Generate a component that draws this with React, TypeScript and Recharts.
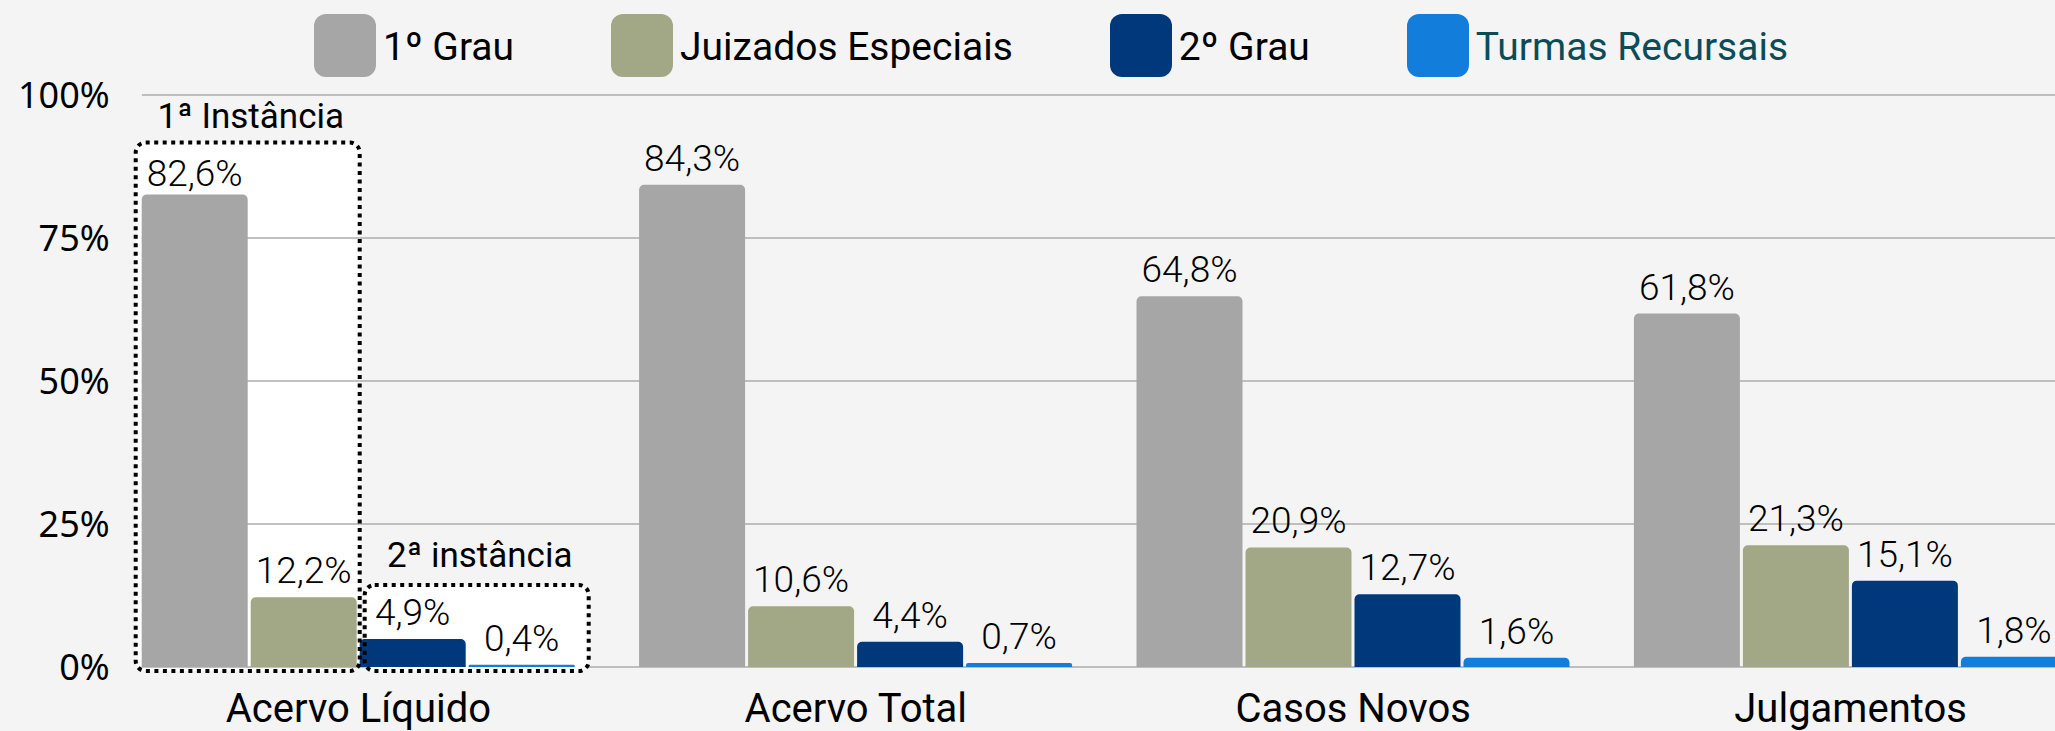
import React from "react";
import { Bar, BarChart, CartesianGrid, LabelList, Rectangle, XAxis, YAxis } from "recharts";

const categories = ["Acervo Líquido", "Acervo Total", "Casos Novos", "Julgamentos"];
const primeiroGrau = [82.6, 84.3, 64.8, 61.8];
const juizadosEspeciais = [12.2, 10.6, 20.9, 21.3];
const segundoGrau = [4.9, 4.4, 12.7, 15.1];
const turmasRecursais = [0.4, 0.7, 1.6, 1.8];
const yTicks = [0, 25, 50, 75, 100];
const boxTitles = ["1ª Instância", "2ª instância"];

const series = [
  { key: "primeiroGrau", name: "1º Grau", color: "#a6a6a6", text: "#000000" },
  { key: "juizados", name: "Juizados Especiais", color: "#a2a785", text: "#000000" },
  { key: "segundoGrau", name: "2º Grau", color: "#00387c", text: "#000000" },
  { key: "turmas", name: "Turmas Recursais", color: "#137ddb", text: "#0b4c57" },
];

const data = categories.map((cat, i) => ({
  cat,
  primeiroGrau: primeiroGrau[i],
  juizados: juizadosEspeciais[i],
  segundoGrau: segundoGrau[i],
  turmas: turmasRecursais[i],
}));

// layout
const WIDTH = 2120;
const HEIGHT = 731;
const AXIS_W = 109.7;
const XAXIS_H = 64;
const MARGIN = { top: 95, right: 20.7, bottom: 0, left: 0 };
const BAR = 106;
const GAP = 3;
const RADIUS: [number, number, number, number] = [5, 5, 0, 0];
const PLOT_W = WIDTH - AXIS_W - MARGIN.right - MARGIN.left;
const PLOT_H = HEIGHT - MARGIN.top - XAXIS_H - MARGIN.bottom;
const BAND = PLOT_W / categories.length;
const INSET = (BAND - (4 * BAR + 3 * GAP)) / 2;
const GRID = "#adadad";

const fmt = (v: number) => v.toFixed(1).replace(".", ",") + "%";

// both annotation boxes, from the first group's gray bar left edge and the baseline
function boxes(x0: number, w: number, base: number) {
  const k = PLOT_H / 100;
  const grayTop = base - primeiroGrau[0] * k;
  const blueTop = base - segundoGrau[0] * k;
  const split = x0 + 2 * w + 2 * GAP;
  return [
    { left: x0 - 6, right: split, top: grayTop - 52, bottom: base + 4, titleDy: 15 },
    { left: split + 5, right: x0 + 4 * w + 3 * GAP + 14, top: blueTop - 54, bottom: base + 4, titleDy: 18 },
  ];
}

const GrayShape = (props: any) => {
  const { x, y, width, height, index } = props;
  const bar = <Rectangle x={x} y={y} width={width} height={height} radius={RADIUS} fill={series[0].color} />;
  if (index !== 0) return bar;
  const base = y + height;
  const k = PLOT_H / 100;
  const bx = boxes(x, width, base);
  const b1 = bx[0];
  return (
    <g>
      {bx.map((b, i) => (
        <rect key={i} x={b.left} y={b.top} width={b.right - b.left} height={b.bottom - b.top} rx={10} fill="#ffffff" />
      ))}
      {yTicks
        .filter((t) => base - t * k > b1.top)
        .map((t) => (
          <line key={t} x1={x} x2={b1.right} y1={base - t * k} y2={base - t * k} stroke={GRID} strokeWidth={1.5} />
        ))}
      {bar}
    </g>
  );
};

const LightShape = (props: any) => {
  const { x, y, width, height, index } = props;
  const bar = <Rectangle x={x} y={y} width={width} height={height} radius={RADIUS} fill={series[3].color} />;
  if (index !== 0) return bar;
  const base = y + height;
  const x0 = x - 3 * (width + GAP);
  const bx = boxes(x0, width, base);
  return (
    <g>
      {bar}
      {bx.map((b, i) => (
        <g key={i}>
          <rect
            x={b.left}
            y={b.top}
            width={b.right - b.left}
            height={b.bottom - b.top}
            rx={10}
            fill="none"
            stroke="#000"
            strokeWidth={4}
            strokeDasharray="4 4.5"
          />
          <text
            x={(b.left + b.right) / 2 + 3}
            y={b.top - b.titleDy}
            textAnchor="middle"
            fontFamily="Roboto"
            fontSize={35}
            fill="#000"
          >
            {boxTitles[i]}
          </text>
        </g>
      ))}
    </g>
  );
};

const renderLabel = (seriesKey: string) => (p: any) => {
  const vb = p.viewBox || {};
  const x = p.x ?? vb.x;
  const y = p.y ?? vb.y;
  const width = p.width ?? vb.width;
  const off = seriesKey === "primeiroGrau" && p.index === 0 ? 9 : 14;
  return (
    <text
      x={x + width / 2}
      y={y - off}
      textAnchor="middle"
      fontFamily="Roboto"
      fontWeight={300}
      fontSize={37}
      fill="#000"
    >
      {fmt(Number(p.value))}
    </text>
  );
};

const gridLine = (p: any) => (
  <line
    key={p.key ?? `h-${p.index}`}
    x1={p.x1 + INSET}
    x2={p.x2}
    y1={p.y1}
    y2={p.y2}
    stroke={GRID}
    strokeWidth={1.5}
  />
);

export default function App() {
  return (
    <div
      style={{
        position: "fixed",
        left: 0,
        top: 0,
        width: 2055,
        height: 731,
        overflow: "hidden",
        background: "#f4f4f4",
      }}
    >
      <BarChart width={WIDTH} height={HEIGHT} data={data} margin={MARGIN} barSize={BAR} barGap={GAP}>
        <CartesianGrid vertical={false} horizontal={gridLine} />
        <XAxis
          dataKey="cat"
          height={XAXIS_H}
          axisLine={false}
          tickLine={false}
          tickSize={0}
          tickMargin={27}
          interval={0}
          tick={{ fontFamily: "Roboto", fontSize: 40, fill: "#000" }}
        />
        <YAxis
          width={AXIS_W}
          domain={[0, 100]}
          ticks={yTicks}
          axisLine={false}
          tickLine={false}
          tickSize={0}
          tickMargin={0}
          tickFormatter={(v: number) => `${v}%`}
          tick={{ fontFamily: "Noto Sans", fontSize: 36, fill: "#000" }}
        />
        <Bar dataKey="primeiroGrau" name={series[0].name} fill={series[0].color} shape={GrayShape} isAnimationActive={false}>
          <LabelList dataKey="primeiroGrau" content={renderLabel("primeiroGrau")} />
        </Bar>
        <Bar dataKey="juizados" name={series[1].name} fill={series[1].color} radius={RADIUS} isAnimationActive={false}>
          <LabelList dataKey="juizados" content={renderLabel("juizados")} />
        </Bar>
        <Bar dataKey="segundoGrau" name={series[2].name} fill={series[2].color} radius={RADIUS} isAnimationActive={false}>
          <LabelList dataKey="segundoGrau" content={renderLabel("segundoGrau")} />
        </Bar>
        <Bar dataKey="turmas" name={series[3].name} fill={series[3].color} shape={LightShape} isAnimationActive={false}>
          <LabelList dataKey="turmas" content={renderLabel("turmas")} />
        </Bar>
      </BarChart>
      <div
        style={{
          position: "absolute",
          left: 314,
          top: 14,
          display: "flex",
          alignItems: "center",
          gap: 97,
        }}
      >
        {series.map((s) => (
          <div key={s.key} style={{ display: "flex", alignItems: "center" }}>
            <span style={{ display: "block", width: 62, height: 63, borderRadius: 12, background: s.color }} />
            <span
              style={{
                marginLeft: 7,
                paddingTop: 3,
                fontFamily: "Roboto",
                fontSize: 39,
                lineHeight: 1,
                color: s.text,
                whiteSpace: "nowrap",
              }}
            >
              {s.name}
            </span>
          </div>
        ))}
      </div>
    </div>
  );
}
